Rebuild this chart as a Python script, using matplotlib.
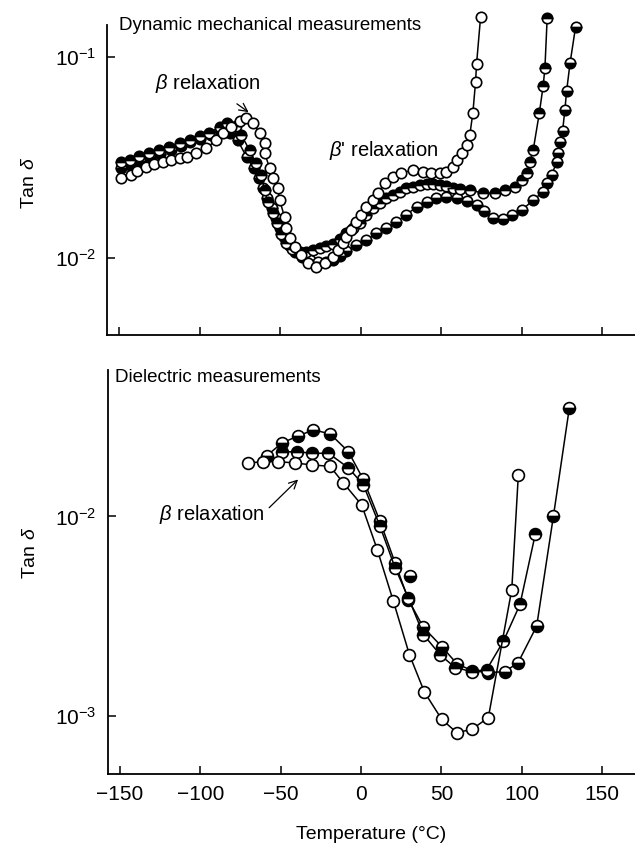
import matplotlib
matplotlib.use("Agg")
import matplotlib.pyplot as plt
from matplotlib.ticker import NullLocator

plt.rcParams['font.family'] = ['Liberation Sans', 'DejaVu Sans']
plt.rcParams['mathtext.fontset'] = 'custom'
plt.rcParams['mathtext.rm'] = 'Liberation Sans'
plt.rcParams['mathtext.it'] = 'Liberation Sans:italic'
plt.rcParams['mathtext.bf'] = 'Liberation Sans:bold'

# ---- dynamic mechanical (upper panel) ----
dm_T_open = [-148.9, -142.7, -138.8, -133.4, -128.2, -123.2, -117.8, -112.6, -107.7, -102.2,
             -96.0, -89.8, -85.9, -80.5, -75.3, -71.1, -67.2, -62.8, -59.7, -59.7,
             -56.6, -54.8, -51.6, -50.4, -47.3, -46.2, -44.2, -41.1, -36.9, -33.0,
             -27.6, -22.4, -17.4, -14.3, -11.2, -8.9, -5.8, -2.7, 0.4, 3.5,
             7.5, 10.6, 14.9, 19.9, 25.3, 32.4, 38.6, 44.0, 49.2, 53.3,
             57.2, 59.6, 62.7, 65.8, 67.8, 69.7, 71.4, 72.0, 74.5]
dm_tan_open = [0.0249, 0.0259, 0.0271, 0.0285, 0.0294, 0.0301, 0.0308, 0.0315, 0.0318, 0.0333,
               0.0352, 0.0386, 0.0419, 0.0450, 0.0482, 0.0495, 0.0470, 0.0419, 0.0373, 0.0333,
               0.0280, 0.0250, 0.0223, 0.0194, 0.0160, 0.0141, 0.0126, 0.0114, 0.01035, 0.00944,
               0.00906, 0.00944, 0.01014, 0.01096, 0.01188, 0.01277, 0.01377, 0.01517, 0.01637, 0.0180,
               0.01944, 0.02106, 0.02361, 0.02537, 0.02648, 0.02742, 0.02687, 0.02648, 0.02648, 0.02687,
               0.02844, 0.03076, 0.03328, 0.03648, 0.04093, 0.05263, 0.07534, 0.09231, 0.1577]

dm_T_top = [-148.9, -143.7, -137.5, -131.3, -125.1, -118.9, -112.6, -106.4, -100.2, -94.0,
            -87.7, -82.8, -77.8, -74.1, -69.1, -65.3, -62.2, -59.7, -57.8, -54.8,
            -52.3, -49.8, -46.7, -42.9, -38.0, -33.8, -29.9, -25.5, -21.3, -17.4,
            -13.1, -8.9, -5.0, -0.6, 3.5, 7.5, 11.8, 16.0, 19.9, 24.3,
            28.4, 32.4, 36.7, 40.9, 44.8, 49.2, 53.3, 57.2, 61.6, 67.8,
            76.1, 83.4, 89.6, 95.8, 100.2, 103.5, 105.2, 107.2, 111.0, 113.4,
            114.5, 115.9]
dm_tan_top = [0.0301, 0.0308, 0.0322, 0.0333, 0.0344, 0.0358, 0.0373, 0.0389, 0.0405, 0.0421,
              0.0449, 0.0470, 0.0454, 0.0409, 0.0344, 0.0297, 0.0259, 0.0218, 0.0190, 0.0168,
              0.0149, 0.0132, 0.0119, 0.0111, 0.0107, 0.0107, 0.0110, 0.0112, 0.0115, 0.0118,
              0.0125, 0.0133, 0.0141, 0.0149, 0.0164, 0.0177, 0.0187, 0.0198, 0.0206, 0.0214,
              0.0222, 0.0226, 0.0231, 0.0233, 0.0233, 0.0231, 0.0228, 0.0224, 0.0220, 0.0217,
              0.0211, 0.0210, 0.0218, 0.0226, 0.0244, 0.0265, 0.0301, 0.0344, 0.0525, 0.0718,
              0.0879, 0.156]

dm_T_bot = [-148.9, -143.1, -136.9, -130.7, -124.5, -118.2, -112.0, -105.8, -99.6, -93.3,
            -87.1, -81.5, -76.5, -70.9, -66.6, -63.5, -61.0, -58.5, -55.4, -52.9,
            -50.4, -47.9, -44.8, -41.1, -36.7, -31.7, -26.8, -21.8, -17.2, -13.1,
            -8.9, -2.7, 3.5, 9.8, 16.0, 22.2, 28.4, 34.7, 40.9, 47.1,
            53.3, 59.6, 65.8, 72.0, 76.5, 82.3, 88.5, 93.8, 100.0, 107.2,
            113.4, 115.6, 118.7, 121.8, 122.8, 123.8, 125.5, 126.9, 128.0, 130.1,
            133.6]
dm_tan_bot = [0.0280, 0.0290, 0.0304, 0.0318, 0.0329, 0.0344, 0.0360, 0.0377, 0.0391, 0.0409,
              0.0434, 0.0419, 0.0386, 0.0318, 0.0280, 0.0250, 0.0223, 0.0199, 0.0177, 0.0158,
              0.0141, 0.0127, 0.0116, 0.0107, 0.0101, 0.00977, 0.00955, 0.00955, 0.00977, 0.01023,
              0.01084, 0.0116, 0.0123, 0.0133, 0.0141, 0.0152, 0.0164, 0.0180, 0.0191, 0.0198,
              0.0202, 0.0200, 0.0193, 0.0184, 0.0171, 0.0158, 0.0156, 0.0164, 0.0173, 0.0194,
              0.0214, 0.0236, 0.0259, 0.0301, 0.0332, 0.0379, 0.0430, 0.0545, 0.0679, 0.0931,
              0.142]

# ---- dielectric (lower panel) ----
de_T_open = [-70.1, -60.8, -51.5, -41.1, -30.7, -19.3, -11.0, 0.4, 10.1, 20.1,
             30.1, 39.4, 50.2, 59.6, 68.9, 79.2, 93.8, 97.9]
de_tan_open = [0.0185, 0.0188, 0.0188, 0.0185, 0.0181, 0.0178, 0.0147, 0.0114, 0.00681, 0.00376,
               0.00203, 0.00132, 0.000963, 0.000826, 0.000858, 0.000982, 0.00430, 0.0162]

de_T_top = [-49.3, -40.0, -30.7, -20.3, -7.9, 1.4, 11.8, 21.2, 29.4, 38.8,
            49.2, 58.5, 68.9, 78.2, 88.6, 98.9, 108.5]
de_tan_top = [0.0210, 0.0211, 0.0207, 0.0207, 0.0175, 0.0144, 0.00891, 0.00552, 0.00392, 0.00256,
              0.00203, 0.00175, 0.00167, 0.00171, 0.00237, 0.00362, 0.00819]

de_T_bot = [-58.7, -49.3, -39.0, -29.7, -19.3, -7.9, 1.4, 11.8, 21.2, 29.4,
            38.8, 50.2, 59.6, 68.9, 79.2, 89.6, 97.7, 109.3, 119.7, 129.6]
de_tan_bot = [0.0201, 0.0233, 0.0253, 0.0271, 0.0259, 0.0211, 0.0153, 0.00944, 0.00585, 0.00383,
              0.00278, 0.00223, 0.00183, 0.00169, 0.00165, 0.00167, 0.00185, 0.00282, 0.0100, 0.0348]
de_T_stray = [30.5]
de_tan_stray = [0.00501]

x_ticks = [-150, -100, -50, 0, 50, 100, 150]


def draw(ax, t, v, style, ms, line=True):
    kw = dict(color='black', lw=1.1 if line else 0, marker='o', ms=ms,
              mec='black', mew=1.2, clip_on=False)
    if style == 'open':
        kw.update(mfc='white')
    else:
        kw.update(fillstyle=style, mfc='black', markerfacecoloralt='white')
    ax.plot(t, v, **kw)


def style_axes(ax, yticks, ylabels):
    ax.set_yscale('log')
    ax.set_xlim(-157.7, 170.5)
    ax.set_xticks(x_ticks)
    ax.set_yticks(yticks)
    ax.set_yticklabels(ylabels)
    ax.yaxis.set_minor_locator(NullLocator())
    ax.spines['top'].set_visible(False)
    ax.spines['right'].set_visible(False)
    ax.spines['left'].set_linewidth(1.3)
    ax.spines['bottom'].set_linewidth(1.3)
    ax.tick_params(direction='in', length=6, width=1.1, labelsize=15, pad=8)


fig = plt.figure(figsize=(6.35, 8.47), dpi=100)

ax1 = fig.add_axes([0.1685, 0.6045, 0.8315, 0.366])
draw(ax1, dm_T_bot, dm_tan_bot, 'bottom', 7.5)
draw(ax1, dm_T_top, dm_tan_top, 'top', 7.5)
draw(ax1, dm_T_open, dm_tan_open, 'open', 7.5)
style_axes(ax1, [0.1, 0.01], [r'$10^{-1}$', r'$10^{-2}$'])
ax1.set_ylim(10 ** -2.383, 10 ** -0.84)
ax1.tick_params(axis='x', labelbottom=False)
ax1.set_ylabel(r'Tan $\delta$', fontsize=14)
ax1.yaxis.set_label_coords(-0.13, 0.49)
ax1.text(-150, 0.144, 'Dynamic mechanical measurements', fontsize=13.5, ha='left', va='center')
ax1.annotate(r'$\beta$ relaxation', xy=(-69.7, 0.0532), xytext=(-94.9, 0.0743),
             fontsize=14.5, ha='center', va='center',
             arrowprops=dict(arrowstyle='->', color='black', lw=0.9, shrinkA=8, shrinkB=0))
ax1.text(14.3, 0.0344, r"$\beta$' relaxation", fontsize=14.5, ha='center', va='center')

ax2 = fig.add_axes([0.1696, 0.0862, 0.8304, 0.477])
draw(ax2, de_T_bot, de_tan_bot, 'bottom', 8.5)
draw(ax2, de_T_stray, de_tan_stray, 'bottom', 8.5, line=False)
draw(ax2, de_T_top, de_tan_top, 'top', 8.5)
draw(ax2, de_T_open, de_tan_open, 'open', 8.5)
style_axes(ax2, [0.01, 0.001], [r'$10^{-2}$', r'$10^{-3}$'])
ax2.set_ylim(10 ** -3.29, 10 ** -1.267)
ax2.set_ylabel(r'Tan $\delta$', fontsize=14)
ax2.yaxis.set_label_coords(-0.13, 0.547)
ax2.set_xlabel('Temperature (°C)', fontsize=14, labelpad=16)
ax2.text(-153, 0.0494, 'Dielectric measurements', fontsize=13.5, ha='left', va='center')
ax2.annotate(r'$\beta$ relaxation', xy=(-39.2, 0.0153), xytext=(-93, 0.0102),
             fontsize=14.5, ha='center', va='center',
             arrowprops=dict(arrowstyle='->', color='black', lw=0.9, shrinkA=2, shrinkB=0,
                             relpos=(1.0, 0.6)))

fig.savefig('out.png', dpi=100)
